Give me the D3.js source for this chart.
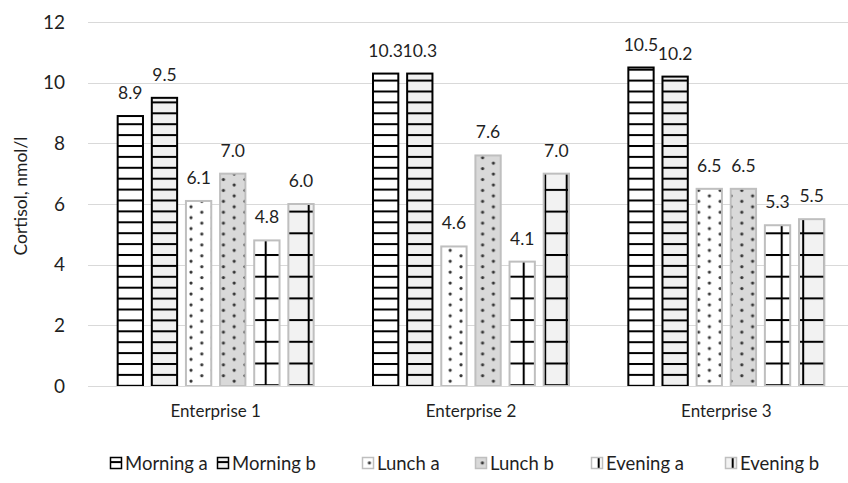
<!DOCTYPE html>
<html>
<head>
<meta charset="utf-8">
<script src="https://cdn.jsdelivr.net/npm/d3@7"></script>
<style>
  html, body { margin: 0; padding: 0; background: #fff; }
  svg { display: block; font-family: Lato, "Open Sans", sans-serif; }
</style>
</head>
<body>
<svg id="chart" width="848" height="483"></svg>
<script>
// ---- data ----
const categories = ["Enterprise 1", "Enterprise 2", "Enterprise 3"];
const seriesNames = ["Morning a", "Morning b", "Lunch a", "Lunch b", "Evening a", "Evening b"];
const morningA = [8.9, 10.3, 10.5];
const morningB = [9.5, 10.3, 10.2];
const lunchA   = [6.1, 4.6, 6.5];
const lunchB   = [7.0, 7.6, 6.5];
const eveningA = [4.8, 4.1, 5.3];
const eveningB = [6.0, 7.0, 5.5];
const yTicks = [0, 2, 4, 6, 8, 10, 12];
const yTitle = "Cortisol, nmol/l";

const seriesValues = [morningA, morningB, lunchA, lunchB, eveningA, eveningB];

// ---- styles ----
const seriesStyle = [
  { pat: "pMorningA", stroke: "#000000" },
  { pat: "pMorningB", stroke: "#000000" },
  { pat: "pLunchA",   stroke: "#bfbfbf" },
  { pat: "pLunchB",   stroke: "#bfbfbf" },
  { pat: "pEveningA", stroke: "#bfbfbf" },
  { pat: "pEveningB", stroke: "#bfbfbf" }
];
const textColor = "#1f1f1f";

const svg = d3.select("#chart");
const defs = svg.append("defs");

function stripePattern(id, bg) {
  const p = defs.append("pattern").attr("id", id)
    .attr("patternUnits", "userSpaceOnUse")
    .attr("x", 0).attr("y", 254).attr("width", 10).attr("height", 10.9);
  p.append("rect").attr("width", 10).attr("height", 10.9).attr("fill", bg);
  p.append("rect").attr("y", 0).attr("width", 10).attr("height", 2).attr("fill", "#000");
}
stripePattern("pMorningA", "#ffffff");
stripePattern("pMorningB", "#f0f0f0");

function dotPattern(id, bg) {
  const p = defs.append("pattern").attr("id", id)
    .attr("patternUnits", "userSpaceOnUse")
    .attr("x", 189).attr("y", 204.7).attr("width", 21.6).attr("height", 10.9);
  p.append("rect").attr("width", 21.6).attr("height", 10.9).attr("fill", bg);
  p.append("circle").attr("cx", 2).attr("cy", 2).attr("r", 1.6).attr("fill", "#333");
  p.append("circle").attr("cx", 12.8).attr("cy", 7.45).attr("r", 1.6).attr("fill", "#333");
}
dotPattern("pLunchA", "#ffffff");
dotPattern("pLunchB", "#d9d9d9");

function gridPattern(id, bg) {
  const p = defs.append("pattern").attr("id", id)
    .attr("patternUnits", "userSpaceOnUse")
    .attr("x", 264.7).attr("y", 254).attr("width", 21.5).attr("height", 21.7);
  p.append("rect").attr("width", 21.5).attr("height", 21.7).attr("fill", bg);
  p.append("rect").attr("x", 0).attr("y", 0).attr("width", 21.5).attr("height", 2).attr("fill", "#000");
  p.append("rect").attr("x", 0).attr("y", 0).attr("width", 2).attr("height", 21.7).attr("fill", "#000");
}
gridPattern("pEveningA", "#ffffff");
gridPattern("pEveningB", "#f2f2f2");

// ---- scales ----
const x0 = d3.scaleBand().domain(categories).range([88, 854]).paddingInner(0).paddingOuter(0);
const x1 = d3.scaleBand().domain(seriesNames).range([0, x0.bandwidth()]).paddingInner(0.2).paddingOuter(0.84);
const y = d3.scaleLinear().domain([0, 12]).range([386, 22]);

// gridlines
svg.append("g").selectAll("line").data(yTicks).join("line")
  .attr("x1", 88).attr("x2", 848)
  .attr("y1", d => Math.round(y(d)) + 0.5).attr("y2", d => Math.round(y(d)) + 0.5)
  .attr("stroke", "#d9d9d9").attr("stroke-width", 1);

// y axis tick labels
const yAxis = d3.axisLeft(y).tickValues(yTicks).tickSize(0).tickPadding(0).tickFormat(d3.format("d"));
const yg = svg.append("g").attr("transform", "translate(65,0)").call(yAxis);
yg.select(".domain").remove();
yg.selectAll("text").attr("font-size", 19).attr("fill", textColor).attr("font-family", "Lato, sans-serif");

// y title
svg.append("text")
  .attr("transform", "translate(27,196) rotate(-90)")
  .attr("text-anchor", "middle")
  .attr("font-size", 17.5).attr("fill", textColor)
  .text(yTitle);

// bars
const rows = [];
categories.forEach((c, ci) => {
  seriesNames.forEach((s, si) => {
    rows.push({ cat: c, ser: s, si: si, v: seriesValues[si][ci] });
  });
});

const bw = x1.bandwidth();
svg.append("g").selectAll("rect").data(rows).join("rect")
  .attr("x", d => x0(d.cat) + x1(d.ser) + 1)
  .attr("y", d => y(d.v))
  .attr("width", bw - 2)
  .attr("height", d => y(0) - y(d.v))
  .attr("fill", d => `url(#${seriesStyle[d.si].pat})`)
  .attr("stroke", d => seriesStyle[d.si].stroke)
  .attr("stroke-width", 2);

// value labels
svg.append("g").selectAll("text").data(rows).join("text")
  .attr("x", d => x0(d.cat) + x1(d.ser) + bw / 2)
  .attr("y", d => y(d.v) - 17)
  .attr("text-anchor", "middle")
  .attr("font-size", 17.5).attr("fill", textColor)
  .text(d => d3.format(".1f")(d.v));

// x axis
svg.append("line").attr("x1", 88).attr("x2", 848)
  .attr("y1", 386.5).attr("y2", 386.5).attr("stroke", "#d9d9d9");
const xAxis = d3.axisBottom(x0).tickSize(0).tickPadding(0);
const xg = svg.append("g").attr("transform", "translate(0,417)").call(xAxis);
xg.select(".domain").remove();
xg.selectAll("text").attr("font-size", 17).attr("fill", textColor)
  .attr("font-family", "Lato, sans-serif").attr("dy", 0);

// legend
const legX = [110, 217, 362, 475, 591, 725];
const leg = svg.append("g").selectAll("g").data(seriesNames).join("g")
  .attr("transform", (d, i) => `translate(${legX[i]},0)`);
leg.append("rect").attr("x", 0.5).attr("y", 457.5).attr("width", 11).attr("height", 11)
  .attr("fill", (d, i) => `url(#${seriesStyle[i].pat})`)
  .attr("stroke", (d, i) => i < 2 ? "#000" : "#bfbfbf").attr("stroke-width", 1.5);
leg.append("text").attr("x", 15).attr("y", 470)
  .attr("font-size", 18.5).attr("fill", textColor)
  .text(d => d);
</script>
</body>
</html>
